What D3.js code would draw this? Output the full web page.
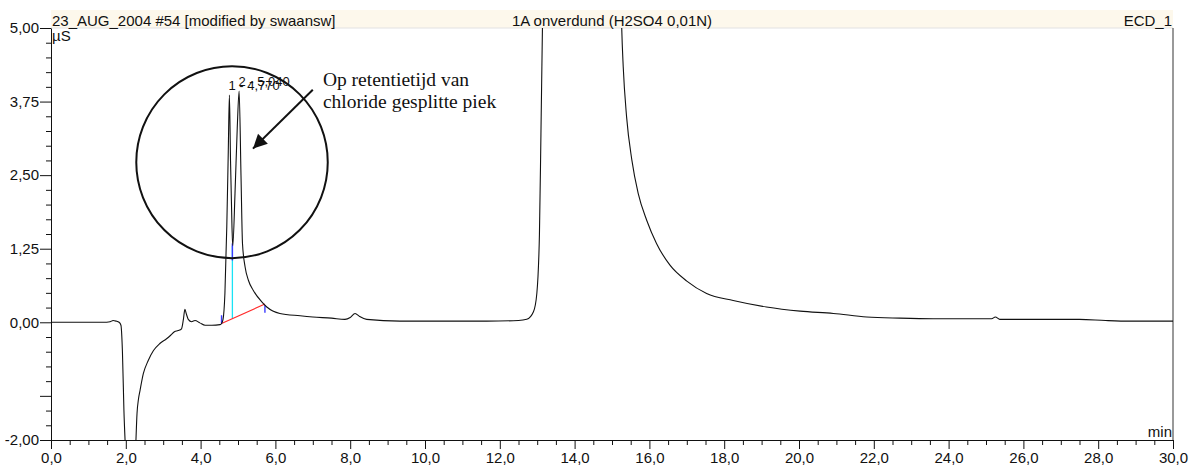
<!DOCTYPE html>
<html>
<head>
<meta charset="utf-8">
<script src="https://cdn.jsdelivr.net/npm/d3@7"></script>
<style>
  body { margin: 0; background: #fff; }
  text { font-family: "Liberation Sans", Arial, sans-serif; fill: #111; }
</style>
</head>
<body>
<div id="chart"></div>
<script>
// header texts
var headerLeft = "23_AUG_2004 #54 [modified by swaansw]",
    headerMiddle = "1A onverdund (H2SO4 0,01N)",
    headerRight = "ECD_1";

// ticks
var xMajorTicks = [0, 2, 4, 6, 8, 10, 12, 14, 16, 18, 20, 22, 24, 26, 28, 30];
var yMajorTicks = [-2, -1.25, 0, 1.25, 2.5, 3.75, 5];
var yUnlabeled = [-1.25];

// chromatogram [min, µS]
var chromatogram = [
  [0, 0], [0.5, 0], [1.0, 0], [1.4, 0], [1.58, 0.01], [1.66, 0.03], [1.74, 0.02], [1.82, 0.0],
  [1.87, -0.05], [1.91, -0.5], [1.95, -1.5], [2.0, -2.3], [2.05, -3.2], [2.2, -3.2], [2.26, -2.2],
  [2.3, -1.55], [2.34, -1.3], [2.38, -1.16], [2.47, -0.87], [2.6, -0.65], [2.74, -0.48],
  [2.91, -0.36], [3.09, -0.28], [3.2, -0.22], [3.3, -0.16], [3.4, -0.14], [3.49, -0.11],
  [3.54, 0.05], [3.58, 0.22], [3.62, 0.14], [3.67, 0.05], [3.76, 0.01], [3.85, 0.03],
  [3.98, -0.01], [4.12, -0.05], [4.3, -0.05], [4.52, -0.04], [4.56, -0.02], [4.6, 0.05],
  [4.65, 0.49], [4.70, 1.62], [4.74, 2.9], [4.77, 3.86], [4.80, 2.75], [4.84, 1.6], [4.86, 1.3],
  [4.92, 2.19], [4.98, 3.3], [5.03, 3.93], [5.08, 2.5], [5.12, 1.34], [5.19, 0.94], [5.28, 0.71],
  [5.41, 0.54], [5.63, 0.35], [5.77, 0.26], [6.12, 0.15], [6.66, 0.11], [7.0, 0.09], [7.5, 0.07],
  [7.86, 0.05], [8.0, 0.08], [8.13, 0.15], [8.25, 0.1], [8.44, 0.05], [9.33, 0.02], [10.5, 0.02],
  [11.65, 0.02], [12.5, 0.03], [12.72, 0.05], [12.9, 0.18], [12.99, 0.49], [13.06, 1.5],
  [13.10, 3.2], [13.14, 5.0], [13.22, 8.0], [15.18, 8.0], [15.26, 5.0], [15.30, 4.34],
  [15.39, 3.49], [15.53, 2.76], [15.70, 2.19], [15.93, 1.73], [16.19, 1.34], [16.55, 0.97],
  [17.0, 0.70], [17.53, 0.49], [18.24, 0.37], [19.13, 0.26], [20.03, 0.19], [20.92, 0.15],
  [21.81, 0.09], [22.7, 0.07], [23.59, 0.06], [24.48, 0.06], [25.15, 0.06], [25.25, 0.09],
  [25.37, 0.05], [26.5, 0.05], [27.5, 0.05], [28.2, 0.03], [28.85, 0.02], [30.0, 0.02]
];

// peaks
var peakNumbers = [1, 2],
    peakTimes = [4.770, 5.040],
    peakHeights = [3.86, 3.93];

// integration baseline + split
var baselineStart = [4.56, -0.02],
    baselineEnd = [5.72, 0.31],
    valleyTime = 4.85,
    valleyValue = 1.3;

// annotation
var noteLines = ["Op retentietijd van", "chloride gesplitte piek"],
    noteAt = [7.27, 4.02],
    arrowFrom = [7.0, 3.95],
    arrowTo = [5.40, 2.95],
    circleCenter = [4.84, 2.72],
    circleRadius = [2.56, 1.63];

var margin = {top: 28, right: 19, bottom: 28, left: 51},
    outerWidth = 1192,
    outerHeight = 468,
    width = outerWidth - margin.left - margin.right,
    height = outerHeight - margin.top - margin.bottom;

var locale = d3.formatLocale({decimal: ",", thousands: ".", grouping: [3], currency: ["", ""], minus: "-"});
var fmtX = locale.format(".1f"),
    fmtY = locale.format(".2f");

var svg = d3.select("#chart")
            .append("svg")
            .attr("width", outerWidth)
            .attr("height", outerHeight)
            .append("g")
            .attr("transform", "translate(" + margin.left + "," + margin.top + ")");

var x = d3.scaleLinear().domain([0, 30]).range([0, width]);
var y = d3.scaleLinear().domain([-2, 5]).range([height, 0]);

// header band
svg.append("rect")
   .attr("x", 0).attr("y", -18)
   .attr("width", width).attr("height", 18)
   .attr("fill", "#fdf8ec");
svg.append("line")
   .attr("x1", 0).attr("x2", width).attr("y1", 0).attr("y2", 0)
   .attr("stroke", "#e2e2e2");

svg.append("text").attr("x", 1).attr("y", -2).style("font-size", "15px").text(headerLeft);
svg.append("text").attr("x", width / 2).attr("y", -2).attr("text-anchor", "middle")
   .style("font-size", "15px").text(headerMiddle);
svg.append("text").attr("x", width - 1).attr("y", -2).attr("text-anchor", "end")
   .style("font-size", "15px").text(headerRight);

// right border
svg.append("line")
   .attr("x1", width).attr("x2", width).attr("y1", 0).attr("y2", height)
   .attr("stroke", "#555").attr("stroke-width", 1.2);

// minor ticks
var xMinor = d3.range(0, 30.01, 0.5).filter(d => d % 2 !== 0);
var yMinor = d3.range(-2, 5.01, 0.25).filter(d => yMajorTicks.indexOf(d) < 0);

svg.append("g")
   .attr("transform", "translate(0," + height + ")")
   .call(d3.axisBottom(x).tickValues(xMinor).tickSize(5).tickSizeOuter(0).tickFormat(""))
   .call(g => g.select(".domain").remove());

svg.append("g")
   .call(d3.axisLeft(y).tickValues(yMinor).tickSize(5).tickSizeOuter(0).tickFormat(""))
   .call(g => g.select(".domain").remove());

// X axis
var xAxis = svg.append("g")
   .attr("transform", "translate(0," + height + ")")
   .call(d3.axisBottom(x).tickValues(xMajorTicks).tickSize(9).tickSizeOuter(0)
            .tickPadding(3).tickFormat(fmtX));
xAxis.selectAll("text").style("font-size", "15px").attr("fill", "#111");

// Y axis
var yAxis = svg.append("g")
   .call(d3.axisLeft(y).tickValues(yMajorTicks).tickSize(11).tickSizeOuter(0)
            .tickPadding(1).tickFormat(d => yUnlabeled.indexOf(d) >= 0 ? "" : fmtY(d)));
yAxis.selectAll("text").style("font-size", "15px").attr("fill", "#111");

svg.selectAll(".domain").attr("stroke", "#111");
svg.selectAll(".tick line").attr("stroke", "#111");

// units
svg.append("text").attr("x", 1).attr("y", 13).style("font-size", "15px").text("µS");
svg.append("text").attr("x", width - 1).attr("y", height - 3).attr("text-anchor", "end")
   .style("font-size", "15px").text("min");

// clip
svg.append("clipPath").attr("id", "plot-clip")
   .append("rect").attr("x", 0).attr("y", 0).attr("width", width).attr("height", height);

// integration marks
var baseAt = t => baselineStart[1] + (t - baselineStart[0]) / (baselineEnd[0] - baselineStart[0]) * (baselineEnd[1] - baselineStart[1]);

svg.append("line")
   .attr("x1", x(valleyTime)).attr("x2", x(valleyTime))
   .attr("y1", y(baseAt(valleyTime))).attr("y2", y(valleyValue))
   .attr("stroke", "#19e3f5").attr("stroke-width", 1.3);
svg.append("line")
   .attr("x1", x(baselineStart[0])).attr("y1", y(baselineStart[1]))
   .attr("x2", x(baselineEnd[0])).attr("y2", y(baselineEnd[1]))
   .attr("stroke", "#ff2a2a").attr("stroke-width", 1.2);

var blueMarks = [
  [baselineStart[0], baselineStart[1], baselineStart[1] + 0.14],
  [valleyTime, valleyValue - 0.25, valleyValue + 0.04],
  [baselineEnd[0], baselineEnd[1] - 0.15, baselineEnd[1] - 0.02]
];
svg.selectAll(".mark")
   .data(blueMarks)
   .enter()
   .append("line")
   .attr("class", "mark")
   .attr("x1", d => x(d[0])).attr("x2", d => x(d[0]))
   .attr("y1", d => y(d[1])).attr("y2", d => y(d[2]))
   .attr("stroke", "#3a3aff").attr("stroke-width", 1.4);

// trace
var line = d3.line()
             .x(d => x(d[0]))
             .y(d => y(d[1]))
             .curve(d3.curveMonotoneX);

svg.append("path")
   .datum(chromatogram)
   .attr("clip-path", "url(#plot-clip)")
   .attr("fill", "none")
   .attr("stroke", "#111")
   .attr("stroke-width", 1.1)
   .attr("d", line);

// peak labels (they overlap in the original too)
svg.selectAll(".peak-label")
   .data(peakNumbers)
   .enter()
   .append("text")
   .attr("class", "peak-label")
   .attr("x", (d, i) => x(peakTimes[i]) - 1)
   .attr("y", (d, i) => y(peakHeights[i]) - 5)
   .style("font-size", "13px")
   .text((d, i) => d + " - " + locale.format(".3f")(peakTimes[i]));

// circle annotation
svg.append("ellipse")
   .attr("cx", x(circleCenter[0]))
   .attr("cy", y(circleCenter[1]))
   .attr("rx", x(circleRadius[0]) - x(0))
   .attr("ry", y(0) - y(circleRadius[1]))
   .attr("fill", "none")
   .attr("stroke", "#111")
   .attr("stroke-width", 2);

// arrow
svg.append("defs").append("marker")
   .attr("id", "arrowhead")
   .attr("viewBox", "0 0 10 10")
   .attr("refX", 10).attr("refY", 5)
   .attr("markerWidth", 18).attr("markerHeight", 14)
   .attr("markerUnits", "userSpaceOnUse")
   .attr("orient", "auto")
   .append("path")
   .attr("d", "M0,0L10,5L0,10Z")
   .attr("fill", "#111");

svg.append("line")
   .attr("x1", x(arrowFrom[0])).attr("y1", y(arrowFrom[1]))
   .attr("x2", x(arrowTo[0])).attr("y2", y(arrowTo[1]))
   .attr("stroke", "#111")
   .attr("stroke-width", 2)
   .attr("marker-end", "url(#arrowhead)");

// note text
var note = svg.append("text")
   .attr("x", x(noteAt[0]))
   .attr("y", y(noteAt[1]))
   .style("font-family", "'Liberation Serif', 'Times New Roman', serif")
   .style("font-size", "19.5px");
note.selectAll("tspan")
    .data(noteLines)
    .enter()
    .append("tspan")
    .attr("x", x(noteAt[0]))
    .attr("dy", (d, i) => i === 0 ? 0 : 22)
    .text(d => d);
</script>
</body>
</html>
